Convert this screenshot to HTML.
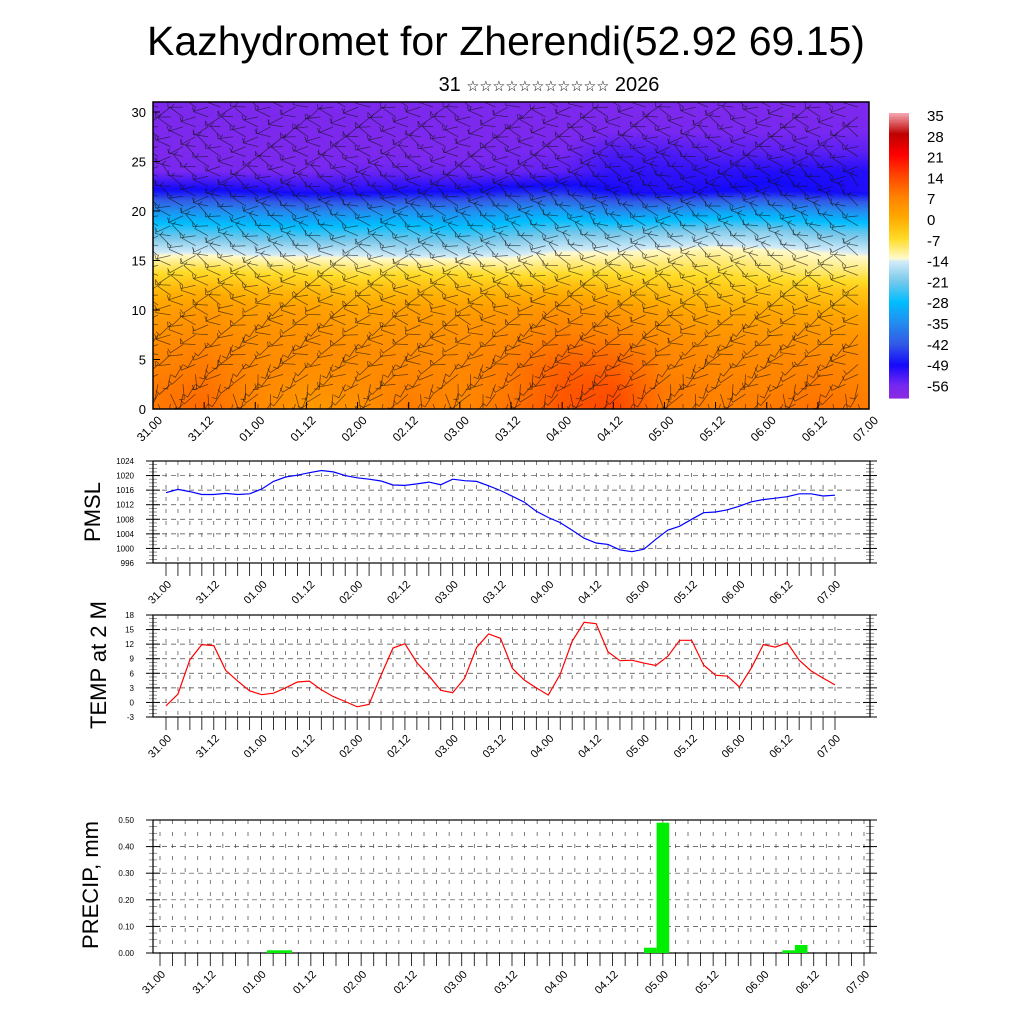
<!DOCTYPE html>
<html><head><meta charset="utf-8">
<style>
html,body{margin:0;padding:0;background:#fff;}
body{width:1024px;height:1024px;position:relative;overflow:hidden;font-family:"Liberation Sans","DejaVu Sans",sans-serif;}
#heat{position:absolute;left:153px;top:102px;width:716px;height:307px;}
#svg{position:absolute;left:0;top:0;}
</style></head>
<body>
<canvas id="heat" width="716" height="307"></canvas>
<svg id="svg" width="1024" height="1024" xmlns="http://www.w3.org/2000/svg">
<defs><clipPath id="hclip"><rect x="153" y="102" width="716" height="307"/></clipPath></defs>
<text x="506" y="55" font-size="41" text-anchor="middle" fill="#000">Kazhydromet for Zherendi(52.92 69.15)</text>
<text x="549" y="91" font-size="20" text-anchor="middle" fill="#000">31 <tspan font-size="14.5">☆☆☆☆☆☆☆☆☆☆☆</tspan> 2026</text>
<text transform="translate(100,512) rotate(-90)" font-size="22" text-anchor="middle">PMSL</text>
<text transform="translate(106,665) rotate(-90)" font-size="22" text-anchor="middle">TEMP at 2 M</text>
<text transform="translate(98,885) rotate(-90)" font-size="22" text-anchor="middle">PRECIP, mm</text>
</svg>
<script>
// ---- data ----
const timeLabels = ["31.00","31.12","01.00","01.12","02.00","02.12","03.00","03.12","04.00","04.12","05.00","05.12","06.00","06.12","07.00"];
const heatLevels = [0,2,4,6,8,10,12,14,16,18,20,22,24,26,28,30,31];
const heatRows = [
[8,10,6,3,4,8,6,9,12,14,8,7,8,9,8],
[8,9,6,4,5,7,6,8,12,13,8,7,7,8,7],
[7,8,6,5,5,6,6,8,11,11,7,6,6,7,6],
[6,7,5,5,5,5,5,7,9,9,6,5,5,5,5],
[4,5,4,4,3,4,4,5,7,6,4,3,3,3,3],
[2,3,2,2,1,2,2,3,4,3,1,0,0,0,0],
[-2,-1,-2,-2,-3,-2,-2,-2,-1,-2,-3,-4,-4,-4,-4],
[-8,-7,-8,-8,-9,-8,-8,-9,-8,-8,-8,-8,-9,-10,-10],
[-15,-15,-16,-16,-16,-17,-17,-16,-14,-14,-13,-12,-13,-14,-15],
[-24,-24,-25,-26,-25,-25,-26,-24,-22,-22,-21,-20,-20,-22,-23],
[-34,-34,-35,-36,-35,-34,-35,-33,-32,-35,-34,-32,-32,-34,-35],
[-48,-48,-49,-50,-50,-49,-49,-47,-46,-49,-50,-49,-48,-49,-50],
[-56,-56,-56,-56,-55,-55,-55,-55,-54,-51,-51,-51,-50,-50,-50],
[-57,-57,-57,-57,-57,-57,-57,-56,-56,-53,-53,-54,-54,-54,-54],
[-57,-57,-57,-57,-57,-57,-57,-57,-57,-56,-56,-56,-56,-56,-56],
[-57,-57,-57,-57,-57,-57,-57,-57,-57,-57,-57,-57,-57,-57,-57],
[-57,-57,-57,-57,-57,-57,-57,-57,-57,-57,-57,-57,-57,-57,-57]];
const windDirByLevel = [200,220,240,250,260,270,275,280,285,290,290,285,280,275,270,270];
const colorbarLabels = [35,28,21,14,7,0,-7,-14,-21,-28,-35,-42,-49,-56];
const pmsl = [1015.3,1016.2,1015.6,1014.8,1014.8,1015.1,1014.8,1015.0,1016.3,1018.4,1019.6,1020.1,1020.8,1021.4,1021.0,1020.0,1019.4,1019.0,1018.5,1017.4,1017.3,1017.7,1018.2,1017.5,1019.0,1018.6,1018.4,1017.2,1015.9,1014.3,1012.7,1010.2,1008.5,1007.1,1005.0,1002.8,1001.5,1001.1,999.6,999.1,999.8,1002.5,1005.0,1006.1,1008.0,1009.8,1010.0,1010.6,1011.6,1012.8,1013.4,1013.8,1014.2,1015.0,1015.0,1014.4,1014.6];
const pmslTicks = [996,1000,1004,1008,1012,1016,1020,1024];
const temp = [-0.7,1.7,8.8,11.9,11.7,6.6,4.4,2.4,1.6,1.9,3.0,4.2,4.4,2.6,1.2,0.2,-0.9,-0.4,5.6,11.2,12.1,8.2,5.5,2.5,2.0,5.0,11.3,14.1,13.2,7.0,4.6,3.0,1.5,5.8,12.6,16.5,16.2,10.4,8.6,8.7,8.1,7.6,9.5,12.8,12.8,7.7,5.6,5.4,3.2,7.1,11.9,11.4,12.3,8.7,6.5,5.0,3.6];
const tempTicks = [-3,0,3,6,9,12,15,18];
const precipIndex = [9,10,39,40,50,51];
const precipValue = [0.01,0.01,0.02,0.49,0.01,0.03];
const precipTicks = [0,0.1,0.2,0.3,0.4,0.5];
const precipTickLabels = ["0.00","0.10","0.20","0.30","0.40","0.50"];

const cStops=[[-60,[138,43,226]],[-56,[120,40,240]],[-49,[20,10,250]],[-42,[50,90,230]],[-35,[35,140,240]],[-28,[0,190,255]],[-21,[120,200,235]],[-14.5,[210,235,248]],[-13.5,[255,250,205]],[-7,[255,220,40]],[0,[255,170,0]],[7,[255,130,0]],[14,[255,70,0]],[21,[255,0,0]],[28,[190,0,0]],[35,[245,170,180]]];
function cmap(v){
  if(v<=cStops[0][0])return cStops[0][1];
  for(let i=1;i<cStops.length;i++){if(v<=cStops[i][0]){const a=cStops[i-1],b=cStops[i];const t=(v-a[0])/(b[0]-a[0]);return a[1].map((c,k)=>Math.round(c+(b[1][k]-c)*t));}}
  return cStops[cStops.length-1][1];
}
const hc=document.getElementById('heat'),hx=hc.getContext('2d');
const W=716,H=307,img=hx.createImageData(W,H);
const yOf=l=>307-l*9.9;
for(let py=0;py<H;py++){
  const lev=(307-py)/9.9;
  let r=0;while(r<heatLevels.length-2&&heatLevels[r+1]<lev)r++;
  const tr=Math.min(1,Math.max(0,(lev-heatLevels[r])/(heatLevels[r+1]-heatLevels[r])));
  for(let px=0;px<W;px++){
    const ct=px/W*(timeLabels.length-1);const c=Math.min(timeLabels.length-2,Math.floor(ct));const tc=ct-c;
    const v0=heatRows[r][c]*(1-tc)+heatRows[r][c+1]*tc;const v1=heatRows[r+1][c]*(1-tc)+heatRows[r+1][c+1]*tc;
    const col=cmap(v0*(1-tr)+v1*tr);const o=(py*W+px)*4;
    img.data[o]=col[0];img.data[o+1]=col[1];img.data[o+2]=col[2];img.data[o+3]=255;
  }
}
hx.putImageData(img,0,0);

const svg=document.getElementById('svg');const NS='http://www.w3.org/2000/svg';
function mk(tag,at,parent){const e=document.createElementNS(NS,tag);for(const k in at)e.setAttribute(k,at[k]);(parent||svg).appendChild(e);return e;}

const gBarb=mk('g',{stroke:'#111','stroke-width':'0.75','stroke-opacity':'0.65',fill:'none','clip-path':'url(#hclip)'});


for(let row=0;row<31;row++){
  const li=Math.min(windDirByLevel.length-1,Math.floor(row/2));
  const y=102+yOf(row+0.5);
  for(let k=0;k<57;k++){
    const x=158+k*12.5;const d=(windDirByLevel[li]+((k*37+row*53)%90)-45)*Math.PI/180;
    const x2=x+15*Math.sin(d),y2=y-15*Math.cos(d);
    const p=mk('path',{d:`M${x},${y.toFixed(1)}L${x2.toFixed(1)},${y2.toFixed(1)}l${(5*Math.cos(d)).toFixed(1)},${(5*Math.sin(d)).toFixed(1)}`},gBarb);
    
    
  }
}
const hf=mk('rect',{x:153,y:102,width:716,height:307,fill:'none',stroke:'#000','stroke-width':1.5});


for(let v=0;v<=30;v+=5){
  const y=409-v*9.9;
  mk('line',{x1:153,x2:160,y1:y,y2:y,stroke:'#000'});
  const t=mk('text',{x:146,y:y+5,'font-size':13,'text-anchor':'end'});t.textContent=v;
  
  
}
timeLabels.forEach((s,i)=>{
  const x=153+i*716/14;
  mk('line',{x1:x,x2:x,y1:409,y2:402,stroke:'#000'});
  const t=mk('text',{transform:`translate(${x+10},${421}) rotate(-45)`,'font-size':12,'text-anchor':'end'});t.textContent=s;
  
  
});
const cbT=113,cbB=398,cbN=200;
for(let i=0;i<cbN;i++){
  const v=35-(i+0.5)*(35+60)/cbN;const c=cmap(v);
  const r=mk('rect',{x:889,y:(cbT+i*(cbB-cbT)/cbN).toFixed(2),width:20,height:((cbB-cbT)/cbN+0.6).toFixed(2),fill:`rgb(${c})`});
  
  
}
colorbarLabels.forEach((v,i)=>{
  const t=mk('text',{x:927,y:121+i*20.8,'font-size':15});t.textContent=v;
  
  
});

function panel(name,top,bot,ticks,tickLbl,xl,xr,n){
  const ymin=ticks[0],ymax=ticks[ticks.length-1];
  const ys=v=>bot-(v-ymin)/(ymax-ymin)*(bot-top);
  const xs=i=>xl+i*(xr-xl)/(n-1);
  const g=mk('g',{});
  
  
  for(let i=0;i<n;i++){const x=xs(i);
    mk('line',{x1:x,x2:x,y1:top,y2:bot,stroke:'#444','stroke-width':0.7,'stroke-dasharray':'4,8'},g);
    mk('line',{x1:x,x2:x,y1:bot,y2:bot+13,stroke:'#000','stroke-width':0.8},g);}
  ticks.forEach((v,i)=>{const y=ys(v);
    mk('line',{x1:153,x2:870,y1:y,y2:y,stroke:'#444','stroke-width':0.7,'stroke-dasharray':'5,4'},g);
    mk('line',{x1:146,x2:160,y1:y,y2:y,stroke:'#000'},g);mk('line',{x1:863,x2:877,y1:y,y2:y,stroke:'#000'},g);
    if(i<ticks.length-1)for(let k=1;k<4;k++){const yy=y-(k/4)*(ys(ticks[i])-ys(ticks[i+1]));
      mk('line',{x1:149,x2:157,y1:yy,y2:yy,stroke:'#666','stroke-width':0.7},g);mk('line',{x1:866,x2:874,y1:yy,y2:yy,stroke:'#666','stroke-width':0.7},g);}
    const t=mk('text',{x:134,y:y+3,'font-size':8,'text-anchor':'end'},g);t.textContent=tickLbl[i];
    
    
  });
  const fr=mk('rect',{x:153,y:top,width:717,height:bot-top,fill:'none',stroke:'#000','stroke-width':1.2},g);
  
  
  timeLabels.forEach((s,i)=>{const x=xs(i*4);
    const t=mk('text',{transform:`translate(${x+6},${bot+22}) rotate(-45)`,'font-size':11,'text-anchor':'end'},g);t.textContent=s;
    
    });
  return {g,xs,ys};
}
const p1=panel('pmsl',461,563,pmslTicks,pmslTicks,166,835,57);
const l1=mk('polyline',{points:pmsl.map((v,i)=>p1.xs(i).toFixed(1)+','+p1.ys(v).toFixed(1)).join(' '),fill:'none',stroke:'#0000ff','stroke-width':1.2},p1.g);


const p2=panel('temp',615,717,tempTicks,tempTicks,166,835,57);
const l2=mk('polyline',{points:temp.map((v,i)=>p2.xs(i).toFixed(1)+','+p2.ys(v).toFixed(1)).join(' '),fill:'none',stroke:'#ff0000','stroke-width':1.2},p2.g);


const p3=panel('precip',820,953,precipTicks,precipTickLabels,160,864,57);
const step=(864-160)/56;
precipIndex.forEach((ix,k)=>{
  const x=p3.xs(ix)-step/2,y=p3.ys(precipValue[k]);
  const b=mk('rect',{x:x.toFixed(1),y:y.toFixed(1),width:step.toFixed(1),height:(953-y).toFixed(1),fill:'#00ee00'},p3.g);
  
  
});
</script>
</body></html>
